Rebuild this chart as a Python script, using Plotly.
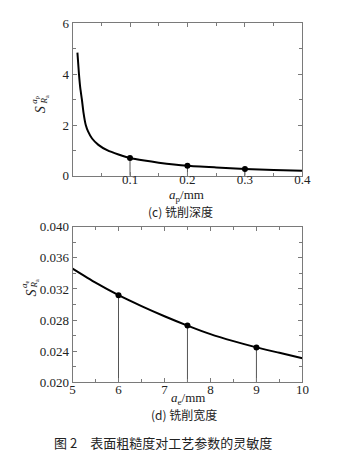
import plotly.graph_objects as go

W, H = 351, 463

# ---- data: (c) milling depth ----
ap_curve_x = [0.0085, 0.0112, 0.0135, 0.0163, 0.019, 0.023, 0.027, 0.034, 0.045, 0.061,
              0.08, 0.1, 0.125, 0.15, 0.2, 0.25, 0.3, 0.35, 0.4]
ap_curve_y = [4.85, 4.0, 3.45, 3.0, 2.5, 2.0, 1.75, 1.47, 1.22, 1.0,
              0.84, 0.70, 0.60, 0.52, 0.40, 0.33, 0.27, 0.23, 0.20]
ap_pts_x = [0.1, 0.2, 0.3]
ap_pts_y = [0.70, 0.40, 0.27]

# ---- data: (d) milling width ----
ae_curve_x = [5, 5.5, 6, 6.5, 7, 7.5, 8, 8.5, 9, 9.5, 10]
ae_curve_y = [0.0346, 0.0328, 0.0312, 0.0298, 0.0285, 0.0273, 0.0262, 0.0253, 0.0245, 0.0238, 0.0231]
ae_pts_x = [6, 7.5, 9]
ae_pts_y = [0.0312, 0.0273, 0.0245]

top_xticks = [0.1, 0.2, 0.3, 0.4]
top_yticks = [0, 2, 4, 6]
bot_xticks = [5, 6, 7, 8, 9, 10]
bot_yticks = [0.020, 0.024, 0.028, 0.032, 0.036, 0.040]

SERIF = "Liberation Serif"
CJK = "Noto Sans CJK SC"
FRAME = "#7a7a7a"

def px(x):
    return x / W

def py(y):
    return 1 - y / H

def stems(xs, ys, base):
    sx, sy = [], []
    for x, y in zip(xs, ys):
        sx += [x, x, None]
        sy += [base, y, None]
    return sx, sy

fig = go.Figure()

s1x, s1y = stems(ap_pts_x, ap_pts_y, 0)
fig.add_trace(go.Scatter(x=s1x, y=s1y, mode="lines", line=dict(color="#555", width=1),
                         xaxis="x", yaxis="y", hoverinfo="skip"))
fig.add_trace(go.Scatter(x=ap_curve_x, y=ap_curve_y, mode="lines",
                         line=dict(color="black", width=2, shape="spline", smoothing=0.5),
                         xaxis="x", yaxis="y"))
fig.add_trace(go.Scatter(x=ap_pts_x, y=ap_pts_y, mode="markers",
                         marker=dict(color="black", size=6), xaxis="x", yaxis="y"))

s2x, s2y = stems(ae_pts_x, ae_pts_y, 0.020)
fig.add_trace(go.Scatter(x=s2x, y=s2y, mode="lines", line=dict(color="#555", width=1),
                         xaxis="x2", yaxis="y2", hoverinfo="skip"))
fig.add_trace(go.Scatter(x=ae_curve_x, y=ae_curve_y, mode="lines",
                         line=dict(color="black", width=2, shape="spline", smoothing=0.6),
                         xaxis="x2", yaxis="y2"))
fig.add_trace(go.Scatter(x=ae_pts_x, y=ae_pts_y, mode="markers",
                         marker=dict(color="black", size=6), xaxis="x2", yaxis="y2"))

common = dict(showline=True, linecolor=FRAME, linewidth=1, mirror="allticks",
              ticks="inside", ticklen=4, tickcolor=FRAME, tickwidth=1,
              showgrid=False, zeroline=False,
              tickfont=dict(family=SERIF, size=13, color="#222"))

xd = [px(72), px(310)]
fig.update_layout(
    width=W, height=H, margin=dict(l=0, r=0, t=0, b=0),
    paper_bgcolor="white", plot_bgcolor="white", showlegend=False,
    font=dict(family=SERIF),
    xaxis=dict(domain=xd, range=[0, 0.4], tickvals=top_xticks, ticktext=["0.1", "0.2", "0.3", "0.4"],
               minor=dict(dtick=0.05, ticks="inside", ticklen=3, tickcolor=FRAME),
               ticklabelstandoff=-8, anchor="y", **common),
    yaxis=dict(domain=[py(174.5), py(17)], range=[0, 6], tickvals=top_yticks,
               minor=dict(dtick=1, ticks="inside", ticklen=3, tickcolor=FRAME),
               anchor="x", **common),
    xaxis2=dict(domain=xd, range=[5, 10], tickvals=bot_xticks,
                minor=dict(dtick=0.5, ticks="inside", ticklen=3, tickcolor=FRAME),
                ticklabelstandoff=-5, anchor="y2", **common),
    yaxis2=dict(domain=[py(388), py(227)], range=[0.020, 0.040], tickvals=bot_yticks,
                tickformat=".3f",
                minor=dict(dtick=0.002, ticks="inside", ticklen=3, tickcolor=FRAME),
                anchor="x2", **common),
)

ann = []
def A(text, x, y, size, family=SERIF, angle=0, xanchor="center"):
    ann.append(dict(text=text, x=px(x), y=py(y), xref="paper", yref="paper",
                    showarrow=False, textangle=angle, xanchor=xanchor, yanchor="middle",
                    font=dict(family=family, size=size, color="#222")))

# y-axis titles (rotated S with stacked super/subscripts)
A("<i>S</i>", 39, 106, 14, angle=-90)
A("<i>a</i><sub>p</sub>", 33, 96, 9, angle=-90)
A("<i>R</i><sub>a</sub>", 43, 96, 9, angle=-90)
A("<i>S</i>", 29, 296, 14, angle=-90)
A("<i>a</i><sub>e</sub>", 23, 286, 9, angle=-90)
A("<i>R</i><sub>a</sub>", 33, 286, 9, angle=-90)

# x-axis titles and sub captions
A("<i>a</i><sub>p</sub>/mm", 190, 195, 13)
A("(c) 铣削深度", 184, 211, 12, family=CJK)
A("<i>a</i><sub>e</sub>/mm", 192, 405, 13)
A("(d) 铣削宽度", 187, 421, 12, family=CJK)
A("图 2　表面粗糙度对工艺参数的灵敏度", 166, 450, 13, family=CJK)

fig.update_layout(annotations=ann)
fig.write_html("out.html")
